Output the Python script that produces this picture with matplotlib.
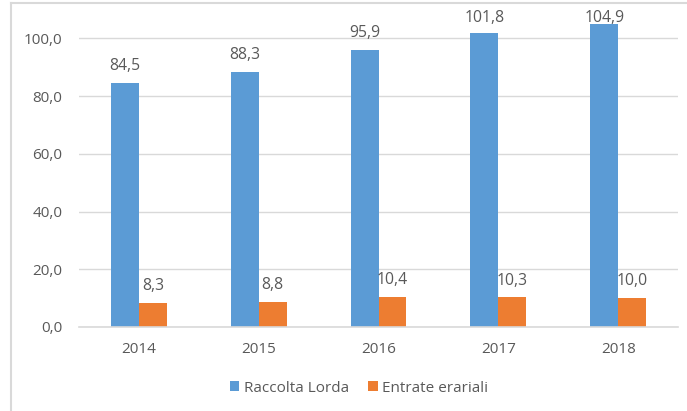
import matplotlib
matplotlib.use("Agg")
import matplotlib.pyplot as plt
from matplotlib.lines import Line2D
import numpy as np

# Data
years = ["2014", "2015", "2016", "2017", "2018"]
raccolta_lorda = [84.5, 88.3, 95.9, 101.8, 104.9]
entrate_erariali = [8.3, 8.8, 10.4, 10.3, 10.0]
y_ticks = [0, 20, 40, 60, 80, 100]

blue = "#5B9BD5"
orange = "#ED7D31"
text_col = "#595959"
grid_col = "#D9D9D9"

plt.rcParams["font.family"] = ["Open Sans", "DejaVu Sans"]

fig = plt.figure(figsize=(6.87, 4.11), dpi=100)
ax = fig.add_axes([0.115, 0.2044, 0.872, 0.7726])

x = np.arange(len(years))
w = 0.233
b1 = ax.bar(x - w / 2, raccolta_lorda, w, color=blue, label="Raccolta Lorda", zorder=2)
b2 = ax.bar(x + w / 2, entrate_erariali, w, color=orange, label="Entrate erariali", zorder=2)

# Value labels with decimal comma; kept inside the plot area near the top
for bars, vals in ((b1, raccolta_lorda), (b2, entrate_erariali)):
    for rect, v in zip(bars, vals):
        ax.text(rect.get_x() + rect.get_width() / 2, min(v + 3.0, 104.4),
                f"{v:.1f}".replace(".", ","),
                ha="center", va="bottom", fontsize=11.3, color=text_col)

ax.set_xlim(-0.5, len(years) - 0.5)
ax.set_ylim(0, 110)
ax.set_yticks(y_ticks)
ax.set_yticklabels([f"{t:.1f}".replace(".", ",") for t in y_ticks])
ax.set_xticks(x)
ax.set_xticklabels(years)
ax.tick_params(length=0, labelsize=11, labelcolor=text_col)
ax.tick_params(axis="y", pad=12)
ax.tick_params(axis="x", pad=11)
ax.yaxis.grid(True, color=grid_col, linewidth=1, zorder=0)
for s in ("top", "right", "left"):
    ax.spines[s].set_visible(False)
ax.spines["bottom"].set_color(grid_col)
ax.spines["bottom"].set_linewidth(1.2)

fig.legend(handles=[b1, b2], loc="center", bbox_to_anchor=(359 / 687, 1 - 388 / 411), ncol=2,
           frameon=False, fontsize=11, labelcolor=text_col, handlelength=0.6,
           handleheight=0.6, handletextpad=0.3, columnspacing=1.3)

# Light frame on the left and top edges of the picture
fig.add_artist(Line2D([11 / 687, 11 / 687], [0, 1 - 3 / 411], transform=fig.transFigure,
                      color="#D9D9D9", linewidth=1.5))
fig.add_artist(Line2D([11 / 687, 1], [1 - 3 / 411, 1 - 3 / 411], transform=fig.transFigure,
                      color="#D9D9D9", linewidth=1.5))

fig.savefig("out.png", dpi=100)
